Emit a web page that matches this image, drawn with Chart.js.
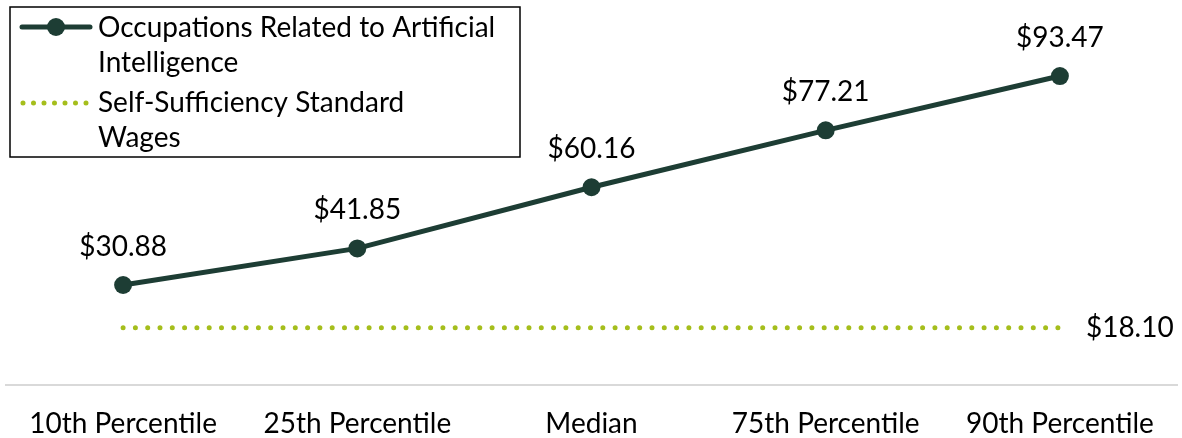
<!DOCTYPE html>
<html>
<head>
<meta charset="utf-8">
<script src="https://cdn.jsdelivr.net/npm/chart.js@4"></script>
<style>
  html, body { margin: 0; padding: 0; background: #fff; }
  #wrap { width: 1182px; height: 438px; position: relative; }
</style>
</head>
<body>
<div id="wrap"><canvas id="wageChart"></canvas></div>
<script>
const categories = ['10th Percentile', '25th Percentile', 'Median', '75th Percentile', '90th Percentile'];
const aiWages = [30.88, 41.85, 60.16, 77.21, 93.47];
const selfSufficiency = [18.10, 18.10, 18.10, 18.10, 18.10];
const aiLegend = ['Occupations Related to Artificial', 'Intelligence'];
const ssLegend = ['Self-Sufficiency Standard', 'Wages'];

const FONT = 'Lato, "Noto Sans", sans-serif';
const FSIZE = 28;
const DARK = '#1d3d34';
const LIME = '#a5be1c';

// value labels + boxed legend, drawn on the canvas
const labelPlugin = {
  id: 'labels',
  afterDatasetsDraw(chart) {
    const ctx = chart.ctx;
    ctx.save();
    ctx.fillStyle = '#000';
    ctx.font = FSIZE + 'px ' + FONT;
    ctx.textBaseline = 'middle';

    const m0 = chart.getDatasetMeta(0);
    ctx.textAlign = 'center';
    m0.data.forEach((pt, i) => {
      ctx.fillText('$' + aiWages[i].toFixed(2), pt.x, pt.y - 38);
    });

    const m1 = chart.getDatasetMeta(1);
    const last = m1.data[m1.data.length - 1];
    ctx.textAlign = 'left';
    ctx.fillText('$' + selfSufficiency[selfSufficiency.length - 1].toFixed(2), last.x + 26, last.y);

    // legend box
    ctx.lineWidth = 1.5;
    ctx.strokeStyle = '#000';
    ctx.strokeRect(10, 7, 510, 150);

    // series 1 swatch
    ctx.strokeStyle = DARK;
    ctx.lineWidth = 5;
    ctx.lineCap = 'round';
    ctx.beginPath();
    ctx.moveTo(22, 27);
    ctx.lineTo(90, 27);
    ctx.stroke();
    ctx.fillStyle = DARK;
    ctx.beginPath();
    ctx.arc(56, 27, 9, 0, Math.PI * 2);
    ctx.fill();

    // series 2 swatch
    ctx.strokeStyle = LIME;
    ctx.setLineDash([0, 10.5]);
    ctx.beginPath();
    ctx.moveTo(23, 103);
    ctx.lineTo(88, 103);
    ctx.stroke();
    ctx.setLineDash([]);

    ctx.fillStyle = '#000';
    ctx.textAlign = 'left';
    ctx.fillText(aiLegend[0], 98, 28);
    ctx.fillText(aiLegend[1], 98, 63);
    ctx.fillText(ssLegend[0], 98, 103);
    ctx.fillText(ssLegend[1], 98, 138);
    ctx.restore();
  }
};

new Chart(document.getElementById('wageChart'), {
  type: 'line',
  data: {
    labels: categories,
    datasets: [{
      label: aiLegend.join(' '),
      data: aiWages,
      borderColor: DARK,
      backgroundColor: DARK,
      borderWidth: 5,
      pointRadius: 9,
      pointHoverRadius: 9,
      pointBackgroundColor: DARK,
      pointBorderWidth: 0,
      tension: 0
    }, {
      label: ssLegend.join(' '),
      data: selfSufficiency,
      borderColor: LIME,
      borderWidth: 5,
      borderDash: [0, 12.3],
      borderCapStyle: 'round',
      pointRadius: 0,
      pointHoverRadius: 0,
      tension: 0
    }]
  },
  options: {
    responsive: true,
    maintainAspectRatio: false,
    animation: false,
    layout: { autoPadding: false, padding: { left: 6, right: 5, top: 0, bottom: 0 } },
    plugins: {
      legend: { display: false },
      tooltip: { enabled: false }
    },
    scales: {
      x: {
        offset: true,
        grid: { display: false, drawTicks: false },
        border: { display: true, color: '#d9d9d9', width: 2 },
        ticks: { color: '#000', font: { size: FSIZE, family: FONT }, padding: 22, maxRotation: 0, autoSkip: false },
        afterFit(scale) { scale.height = 53; }
      },
      y: {
        display: false,
        min: 0.93,
        max: 116.25
      }
    }
  },
  plugins: [labelPlugin]
});
</script>
</body>
</html>
